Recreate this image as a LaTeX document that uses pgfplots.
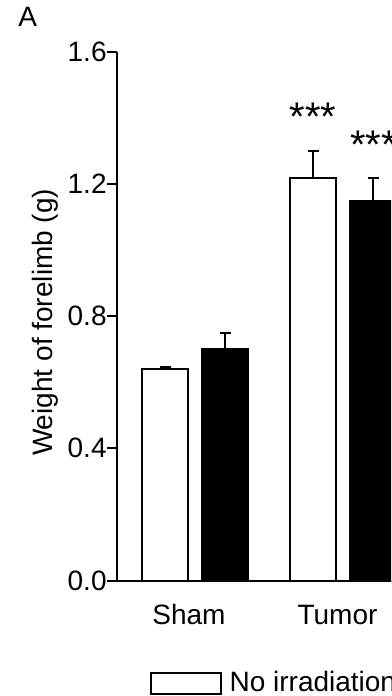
\documentclass[border=0pt]{standalone}
\usepackage{fontspec}
\setmainfont{Liberation Sans}
\usepackage{pgfplots}
\pgfplotsset{compat=1.18}
\begin{document}
\fontsize{14pt}{17pt}\selectfont
\begin{tikzpicture}
\path[use as bounding box, clip] (0,0) rectangle (195.5pt,348pt);
\begin{axis}[
  at={(58.5pt,57.75pt)}, anchor=south west,
  scale only axis, width=166.5pt, height=264.4pt,
  xmin=117, xmax=450, ymin=0, ymax=1.6,
  clip=false,
  axis x line*=bottom, axis y line*=left,
  axis line style={-, line width=1pt, black},
  ytick={0,0.4,0.8,1.2,1.6},
  yticklabel style={/pgf/number format/fixed, /pgf/number format/fixed zerofill, /pgf/number format/precision=1, /pgf/number format/assume math mode=true},
  yticklabel style={anchor=east, inner sep=0pt, font=\fontsize{14pt}{17pt}\selectfont},
  ytick style={line width=1pt, black},
  tick align=outside, major tick length=5pt,
  xtick={189,337.5}, xticklabels={Sham,Tumor},
  xtick style={draw=none},
  xticklabel style={anchor=base, inner sep=0pt, yshift=-16.75pt, font=\fontsize{14pt}{17pt}\selectfont},
  legend columns=2,
  legend style={at={(axis cs:150,-0.311)}, anchor=west, draw=none, fill=none, inner sep=0pt, outer sep=0pt,
    nodes={inner sep=0pt, font=\fontsize{14pt}{17pt}\selectfont}, column sep=4pt},
  legend image code/.code={\draw[#1, line width=1pt] (0pt,-5.3pt) rectangle (34.8pt,5.3pt);},
  error bars/error bar style={line width=1pt, black},
  error bars/error mark options={rotate=90, line width=1pt, black, mark size=2.75pt},
]
\addplot[ybar, bar width=46, bar shift=0pt, fill=white, draw=black, line width=1pt,
  error bars/.cd, y dir=plus, y explicit]
  coordinates {(165,0.640) +- (0,0.007) (313,1.217) +- (0,0.083)};
\addplot[ybar, bar width=46, bar shift=0pt, fill=black, draw=black, line width=1pt,
  error bars/.cd, y dir=plus, y explicit]
  coordinates {(225,0.700) +- (0,0.048) (373,1.149) +- (0,0.069)};
\legend{No irradiation, Irradiation}
\node[anchor=base, inner sep=0pt, font=\fontsize{20pt}{22pt}\selectfont] at (axis cs:313,1.363) {***};
\node[anchor=base, inner sep=0pt, font=\fontsize{20pt}{22pt}\selectfont] at (axis cs:373.5,1.278) {***};
\node[anchor=base, rotate=90, inner sep=0pt, font=\fontsize{14pt}{17pt}\selectfont] at (axis cs:53,0.781) {Weight of forelimb (g)};
\node[anchor=base west, inner sep=0pt, font=\fontsize{14pt}{17pt}\selectfont] at (axis cs:18,1.675) {A};
\end{axis}
\end{tikzpicture}
\end{document}
